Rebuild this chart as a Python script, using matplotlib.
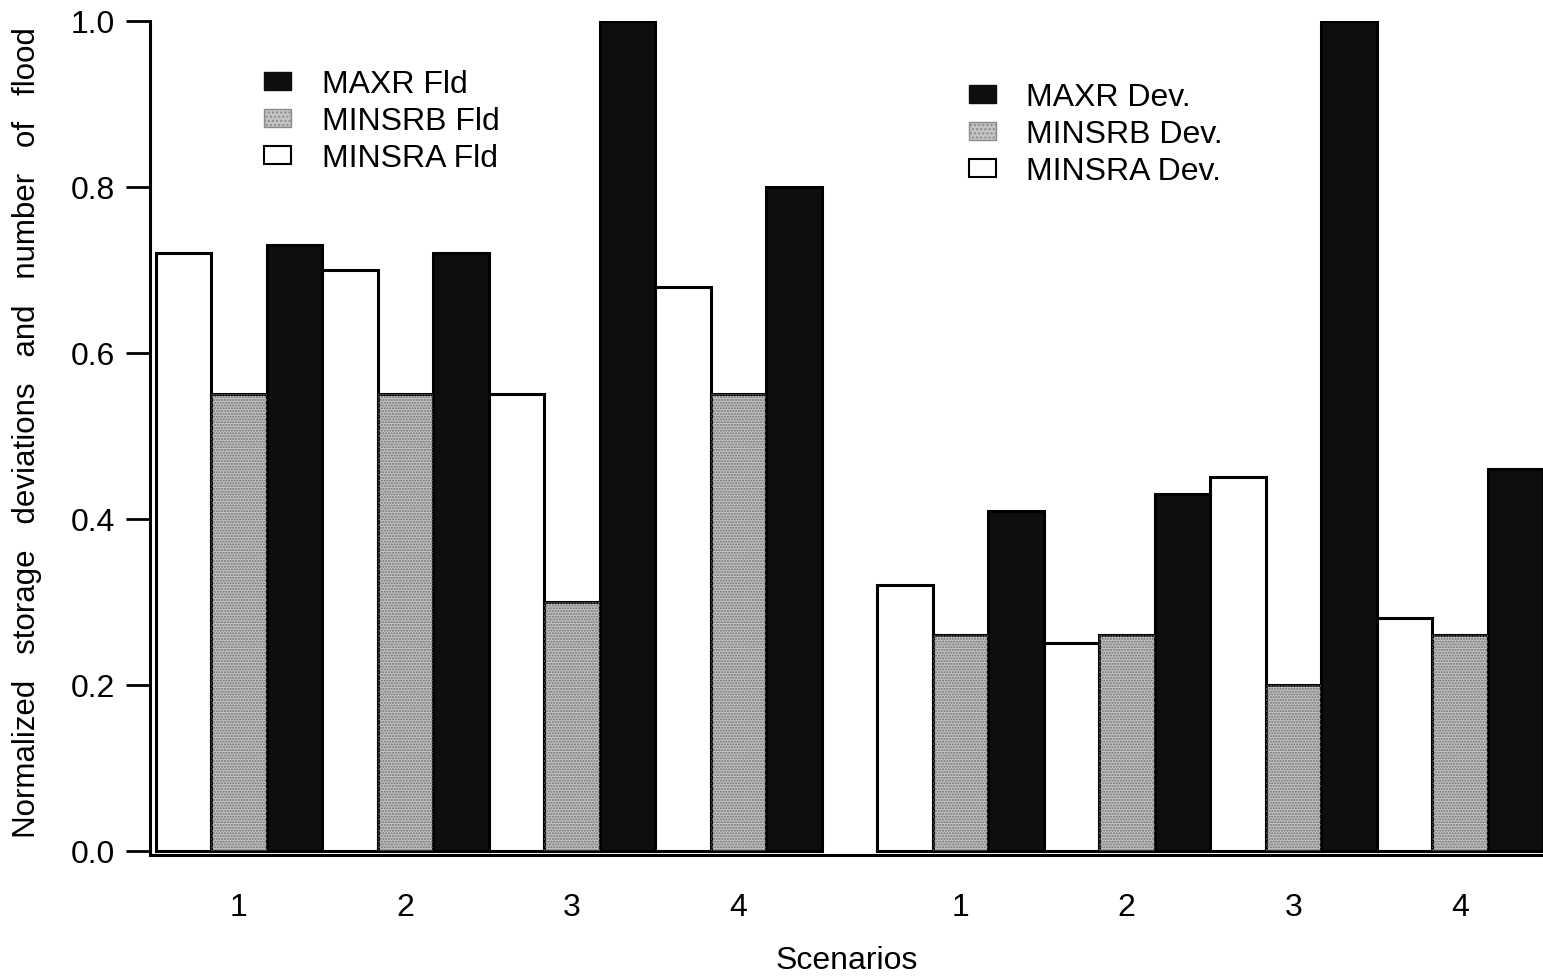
import matplotlib
matplotlib.use("Agg")
import matplotlib.pyplot as plt
from matplotlib.patches import Patch
import numpy as np

plt.rcParams['font.family'] = ['Liberation Sans', 'DejaVu Sans']

scenarios = ["1", "2", "3", "4"]

# Flood counts (normalized)
fld_minsra = [0.72, 0.70, 0.55, 0.68]
fld_minsrb = [0.55, 0.55, 0.30, 0.55]
fld_maxr = [0.73, 0.72, 1.00, 0.80]

# Storage deviations (normalized)
dev_minsra = [0.32, 0.25, 0.45, 0.28]
dev_minsrb = [0.26, 0.26, 0.20, 0.26]
dev_maxr = [0.41, 0.43, 1.00, 0.46]

fig = plt.figure(figsize=(15.43, 9.78), dpi=100)
W, H = 1543, 978
ax = fig.add_axes([150 / W, 1 - 856 / H, (1543 - 150) / W, (856 - 22) / H])

WHITE = "white"
GRAY = "#c4c4c4"
BLACK = "#0e0e0e"
FS = 23


def draw_group(start, minsra, minsrb, maxr):
    n = len(minsra)
    base = start + 3 * np.arange(n)
    ax.bar(base + 0.5, minsra, width=1.0, color=WHITE, edgecolor="black",
           linewidth=2.2, zorder=2)
    ax.bar(base + 1.5, minsrb, width=1.0, color=GRAY, edgecolor="black",
           linewidth=2.2, zorder=2)
    ax.bar(base + 1.5, minsrb, width=1.0, color="none", edgecolor="#6e6e6e",
           hatch="......", linewidth=0, zorder=3)
    ax.bar(base + 2.5, maxr, width=1.0, color=BLACK, edgecolor="black",
           linewidth=2.2, zorder=2)
    return base + 1.5


ticks1 = draw_group(0, fld_minsra, fld_minsrb, fld_maxr)
ticks2 = draw_group(13, dev_minsra, dev_minsrb, dev_maxr)

ax.set_xlim(-0.1, 25.0)
ax.set_ylim(-0.005, 1.0)

ax.set_xticks(np.concatenate([ticks1, ticks2]))
ax.set_xticklabels(scenarios + scenarios, fontsize=FS)
ax.tick_params(axis="x", length=0, pad=27)

ax.set_yticks([0.0, 0.2, 0.4, 0.6, 0.8, 1.0])
ax.set_yticklabels(["0.0", "0.2", "0.4", "0.6", "0.8", "1.0"], fontsize=FS)
ax.tick_params(axis="y", direction="out", length=17, width=2, pad=8)

for s in ["top", "right"]:
    ax.spines[s].set_visible(False)
ax.spines["left"].set_linewidth(2.2)
ax.spines["bottom"].set_linewidth(2.2)

ax.set_xlabel("Scenarios", fontsize=FS)
ax.xaxis.set_label_coords(0.5, -0.108)
ax.set_ylabel("Normalized   storage   deviations   and   number   of   flood",
              fontsize=22.5)
ax.yaxis.set_label_coords(-0.0775, 0.508)

fld_handles = [
    Patch(facecolor=BLACK, edgecolor=BLACK, label="MAXR Fld"),
    Patch(facecolor=GRAY, edgecolor="#8a8a8a", hatch="....", label="MINSRB Fld"),
    Patch(facecolor="white", edgecolor="black", linewidth=1.5, label="MINSRA Fld"),
]
dev_handles = [
    Patch(facecolor=BLACK, edgecolor=BLACK, label="MAXR Dev."),
    Patch(facecolor=GRAY, edgecolor="#8a8a8a", hatch="....", label="MINSRB Dev."),
    Patch(facecolor="white", edgecolor="black", linewidth=1.5, label="MINSRA Dev."),
]

leg_kw = dict(loc="upper left", bbox_transform=fig.transFigure, frameon=False,
              fontsize=FS, handlelength=0.85, handleheight=0.5,
              handletextpad=0.95, labelspacing=0.22, borderpad=0,
              borderaxespad=0)
leg1 = ax.legend(handles=fld_handles, bbox_to_anchor=(264 / W, 1 - 70 / H),
                 **leg_kw)
ax.add_artist(leg1)
ax.legend(handles=dev_handles, bbox_to_anchor=(969 / W, 1 - 83 / H), **leg_kw)

fig.savefig("out.png", dpi=100)
